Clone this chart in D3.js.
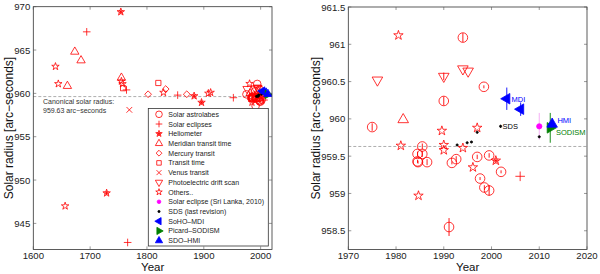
<!DOCTYPE html>
<html>
<head>
<meta charset="utf-8">
<script src="https://cdn.jsdelivr.net/npm/d3@7"></script>
<style>
  body { margin: 0; background: #fff; }
  svg { font-family: "Liberation Sans", Arial, sans-serif; }
</style>
</head>
<body>
<div id="chart"></div>
<script>
// data: [year, radius (arcsec), error]
var astrolabes = [[1975,959.89,0.05],[1994,961.09,0.06],[1990,960.24,0.06],[1998.4,960.43,0.02],
  [1985.5,959.63,0.04],[1984.5,959.53,0.03],[1985.5,959.53,0.04],[1984.5,959.43,0.02],[1984.6,959.42,0.02],
  [1986.5,959.42,0.04],[1991.7,959.41,0.02],[1992.6,959.46,0.04],[1997,959.49,0.03],[1999.5,959.51,0.03],
  [1997.6,959.2,0.02],[1998.5,959.08,0.03],[1999.5,959.04,0.07],[2002,959.29,0.02],[1991.1,958.55,0.12]];
var eclipses = [[1694,967.1],[1764,960.4],[1766,942.8],[1854,959.8],[1952,959.5],[2006,959.23]];
var heliometer = [[1754,969.4],[1729,948.5],[1883,959.7],[1896,958.95],[2000.9,959.44]];
var meridian = [[1660,960.85],[1673,964.8],[1684,963.8],[1755,961.8],[1981.5,959.99]];
var mercury = [[1802,959.9],[1833,960.5],[1870,959.9]];
var transitTime = [[1758,960.6],[1820,961.2]];
var venus = [[1769,958.1]];
var driftScan = [[1976.1,960.52],[1990,960.57,0.05],[1994,960.67],[1995.1,960.64]];
var others = [[1639,963.1],[1644,961.1],[1656,947.0],[1755,961.4],[1757,961.1],[1829,960.1],[1908,960.0],[1912,960.1],
  [1980.5,961.12],[1981,959.64],[1984.7,958.97],[1989.6,959.84],[1990,959.65],[1990,959.58],[1994,959.61],
  [1996.1,959.35],[1997,959.88]];
var sriLanka = [[2010,959.9,0.18]];
var sds = [[1992.8,959.65],[1994.9,959.68],[1995.8,959.69],[1997,959.82],[2001.9,959.9,0.02],[2010,959.76]];
var mdi = [[2003.2,960.27,0.15],[2006.1,960.13,0.09]];
var sodism = [[2012.3,959.88,0.2]];
var hmi = [[2012.7,959.93,0.03]];

var canonical = 959.63;

var series = [
  {name: "Solar astrolabes", data: astrolabes, shape: "circle", color: "red"},
  {name: "Solar eclipses", data: eclipses, shape: "plus", color: "red"},
  {name: "Heliometer", data: heliometer, shape: "helio", color: "red"},
  {name: "Meridian transit time", data: meridian, shape: "tri", color: "red"},
  {name: "Mercury transit", data: mercury, shape: "diamond", color: "red"},
  {name: "Transit time", data: transitTime, shape: "square", color: "red"},
  {name: "Venus transit", data: venus, shape: "x", color: "red"},
  {name: "Photoelectric drift scan", data: driftScan, shape: "tridown", color: "red"},
  {name: "Others..", data: others, shape: "star", color: "red"},
  {name: "Solar eclipse (Sri Lanka, 2010)", data: sriLanka, shape: "dotm", color: "#ff00ff", err: "#f4a6f4"},
  {name: "SDS (last revision)", data: sds, shape: "dot", color: "black"},
  {name: "SoHO\u2013MDI", data: mdi, shape: "left", color: "#0000ff"},
  {name: "Picard\u2013SODISM", data: sodism, shape: "right", color: "#008000"},
  {name: "SDO\u2013HMI", data: hmi, shape: "up", color: "#0000ff"}
];

var svg = d3.select("#chart").append("svg").attr("width", 600).attr("height", 274);

function marker(g, shape, color, r) {
  var sym, rot = 0, fill = "none", sw = 0.8;
  switch (shape) {
    case "circle": sym = d3.symbolCircle; break;
    case "tri": sym = d3.symbolTriangle; break;
    case "tridown": sym = d3.symbolTriangle; rot = 180; break;
    case "diamond": sym = d3.symbolDiamond2; break;
    case "square": sym = d3.symbolSquare2; break;
    case "star": sym = d3.symbolStar; break;
    case "helio": sym = d3.symbolStar; break;
    case "dotm": sym = d3.symbolCircle; fill = color; r = r * 0.55; break;
    case "dot": sym = d3.symbolCircle; fill = color; r = 1.1; break;
    case "left": sym = d3.symbolTriangle; rot = -90; fill = color; break;
    case "right": sym = d3.symbolTriangle; rot = 90; fill = color; break;
    case "up": sym = d3.symbolTriangle; fill = color; break;
  }
  if (shape === "plus") {
    g.append("path").attr("d", "M" + (-r) + ",0H" + r + "M0," + (-r) + "V" + r)
      .attr("stroke", color).attr("stroke-width", sw).attr("fill", "none");
    return;
  }
  if (shape === "x") {
    var q = r * 0.75;
    g.append("path").attr("d", "M" + (-q) + "," + (-q) + "L" + q + "," + q + "M" + (-q) + "," + q + "L" + q + "," + (-q))
      .attr("stroke", color).attr("stroke-width", sw).attr("fill", "none");
    return;
  }
  var area = {circle: Math.PI, tri: 2.1, diamond: 2.0, square: 2.4, star: 1.2, helio: 1.2, dotm: Math.PI, dot: Math.PI};
  var k = area[shape] || 2.1;
  g.append("path")
    .attr("d", d3.symbol(sym, k * r * r)())
    .attr("transform", "rotate(" + rot + ")")
    .attr("fill", fill)
    .attr("stroke", color)
    .attr("stroke-width", sw);
  if (shape === "helio") {
    var a = r * 0.6;
    var lines = "";
    for (var i = 0; i < 4; i++) {
      var t = i * Math.PI / 4;
      lines += "M" + (-a * Math.cos(t)) + "," + (-a * Math.sin(t)) + "L" + (a * Math.cos(t)) + "," + (a * Math.sin(t));
    }
    g.append("path").attr("d", lines).attr("stroke", color).attr("stroke-width", 0.8);
  }
}

function panel(opts) {
  var x = d3.scaleLinear().domain(opts.xd).range([opts.x0, opts.x1]);
  var y = d3.scaleLinear().domain(opts.yd).range([opts.y1, opts.y0]);
  var g = svg.append("g");

  var cid = "clip" + opts.id;
  svg.append("clipPath").attr("id", cid).append("rect")
    .attr("x", opts.x0).attr("y", opts.y0).attr("width", opts.x1 - opts.x0).attr("height", opts.y1 - opts.y0);

  // canonical dashed line
  g.append("line")
    .attr("x1", opts.x0).attr("x2", opts.x1)
    .attr("y1", y(canonical)).attr("y2", y(canonical))
    .attr("stroke", "#999").attr("stroke-width", 0.8).attr("stroke-dasharray", "3,2");

  var pts = g.append("g").attr("clip-path", "url(#" + cid + ")");
  series.forEach(function(s) {
    s.data.forEach(function(d) {
      if (d[0] < opts.xd[0]) return;
      if (opts.showErr && d[2]) {
        pts.append("line")
          .attr("x1", x(d[0])).attr("x2", x(d[0]))
          .attr("y1", y(d[1] - d[2])).attr("y2", y(d[1] + d[2]))
          .attr("stroke", s.err || s.color).attr("stroke-width", 0.9);
      }
      var mg = pts.append("g").attr("transform", "translate(" + x(d[0]) + "," + y(d[1]) + ")");
      marker(mg, s.shape, s.color, opts.r);
    });
  });

  // frame
  g.append("rect").attr("x", opts.x0).attr("y", opts.y0)
    .attr("width", opts.x1 - opts.x0).attr("height", opts.y1 - opts.y0)
    .attr("fill", "none").attr("stroke", "#333").attr("stroke-width", 0.8);

  // ticks (inward, all four sides)
  var tk = g.append("g").attr("stroke", "#555").attr("stroke-width", 0.6);
  opts.xt.forEach(function(v) {
    tk.append("line").attr("x1", x(v)).attr("x2", x(v)).attr("y1", opts.y1).attr("y2", opts.y1 - 3);
    tk.append("line").attr("x1", x(v)).attr("x2", x(v)).attr("y1", opts.y0).attr("y2", opts.y0 + 3);
  });
  opts.yt.forEach(function(v) {
    tk.append("line").attr("y1", y(v)).attr("y2", y(v)).attr("x1", opts.x0).attr("x2", opts.x0 + 3);
    tk.append("line").attr("y1", y(v)).attr("y2", y(v)).attr("x1", opts.x1).attr("x2", opts.x1 - 3);
  });

  // tick labels
  g.selectAll(".xl").data(opts.xt).enter().append("text")
    .attr("x", function(d) { return x(d); }).attr("y", opts.y1 + 9.3)
    .attr("text-anchor", "middle").attr("font-size", 9.6).attr("fill", "#222")
    .text(function(d) { return d; });
  g.selectAll(".yl").data(opts.yt).enter().append("text")
    .attr("x", opts.x0 - 3).attr("y", function(d) { return y(d) + 3.5; })
    .attr("text-anchor", "end").attr("font-size", 9.6).attr("fill", "#222")
    .text(function(d) { return d; });

  // axis titles
  g.append("text").attr("x", (opts.x0 + opts.x1) / 2).attr("y", 271.3)
    .attr("text-anchor", "middle").attr("font-size", 11.5).attr("fill", "#111").text("Year");
  g.append("text")
    .attr("transform", "translate(" + opts.ty + "," + ((opts.y0 + opts.y1) / 2) + ") rotate(-90)")
    .attr("text-anchor", "middle").attr("font-size", 12).attr("fill", "#111")
    .text("Solar radius [arc\u2212seconds]");

  return {x: x, y: y, g: g};
}

var left = panel({
  id: "L", x0: 33.3, x1: 272, y0: 6.7, y1: 249.4,
  xd: [1600, 2020], yd: [942, 970],
  xt: [1600, 1700, 1800, 1900, 2000], yt: [945, 950, 955, 960, 965, 970],
  r: 3.8, showErr: false, ty: 13
});

left.g.append("text").attr("x", 43).attr("y", 104).attr("font-size", 7).attr("fill", "#333")
  .text("Canonical solar radius:");
left.g.append("text").attr("x", 43).attr("y", 112.5).attr("font-size", 7).attr("fill", "#333")
  .text("959.63 arc\u2212seconds");

// legend
var lg = left.g.append("g");
lg.append("rect").attr("x", 148.3).attr("y", 108.5).attr("width", 120).attr("height", 137.5)
  .attr("fill", "white").attr("stroke", "#333").attr("stroke-width", 0.8);
series.forEach(function(s, i) {
  var yy = 114.3 + i * 9.72;
  var mg = lg.append("g").attr("transform", "translate(159," + yy + ")");
  marker(mg, s.shape, s.color, 3.3);
  lg.append("text").attr("x", 168.3).attr("y", yy + 2.5).attr("font-size", 7).attr("fill", "#222").text(s.name);
});

var right = panel({
  id: "R", x0: 348.3, x1: 587, y0: 7, y1: 249.4,
  xd: [1970, 2020], yd: [958.25, 961.5],
  xt: [1970, 1980, 1990, 2000, 2010, 2020], yt: [958.5, 959, 959.5, 960, 960.5, 961, 961.5],
  r: 4.8, showErr: true, ty: 320
});

var lab = [
  {t: "MDI", x: 2004.2, y: 960.27, c: "#0000ff"},
  {t: "HMI", x: 2013.8, y: 959.98, c: "#0000ff"},
  {t: "SODISM", x: 2013.5, y: 959.82, c: "#008000"},
  {t: "SDS", x: 2002.3, y: 959.9, c: "#000"}
];
lab.forEach(function(l) {
  right.g.append("text").attr("x", right.x(l.x)).attr("y", right.y(l.y) + 2.8)
    .attr("font-size", 7.5).attr("fill", l.c).text(l.t);
});
</script>
</body>
</html>
